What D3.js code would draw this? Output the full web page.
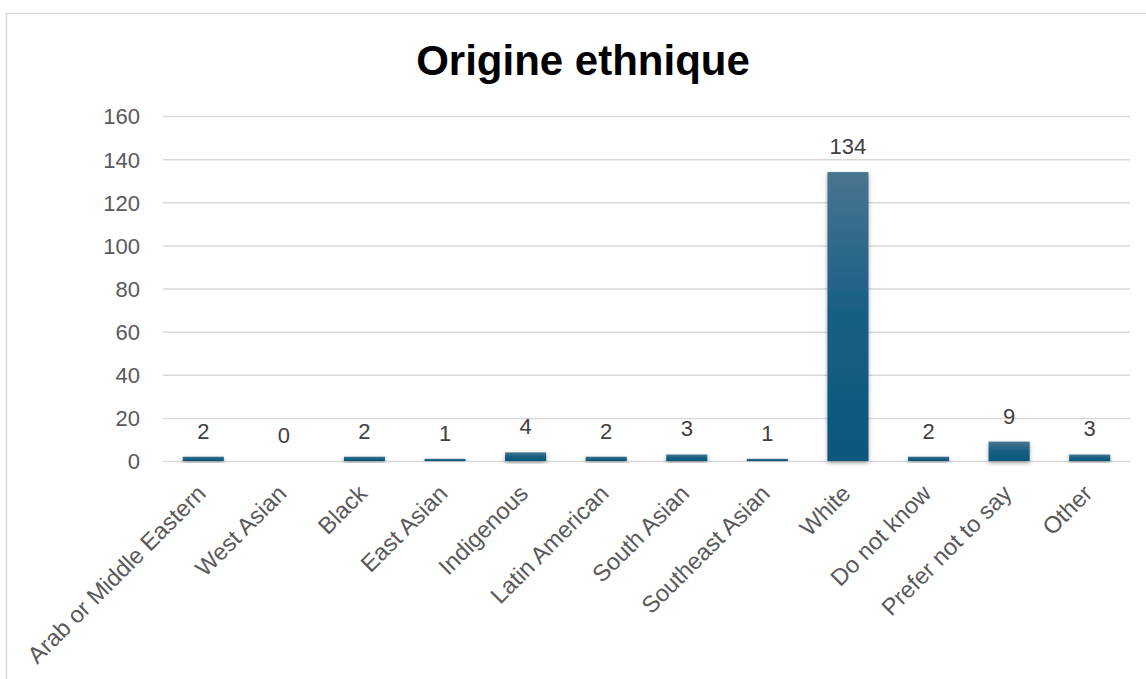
<!DOCTYPE html>
<html><head><meta charset="utf-8">
<script src="https://cdn.jsdelivr.net/npm/d3@7"></script>
<style>body{margin:0;background:#fff;}svg{display:block;font-family:"Liberation Sans",Arial,sans-serif;}</style>
</head><body>
<svg id="chart" width="1146" height="679"></svg>
<script>
const categories = ["Arab or Middle Eastern","West Asian","Black","East Asian","Indigenous","Latin American","South Asian","Southeast Asian","White","Do not know","Prefer not to say","Other"];
const values = [2,0,2,1,4,2,3,1,134,2,9,3];
const yTicks = [0,20,40,60,80,100,120,140,160];
const title = "Origine ethnique";

const svg = d3.select("#chart");
const m = {left:163, right:1130, top:116, bottom:461};

svg.append("rect").attr("x",6.5).attr("y",13.5).attr("width",1150).attr("height",700)
  .attr("fill","#fff").attr("stroke","#d9d9d9").attr("stroke-width",1.5);

const defs = svg.append("defs");
const grad = defs.append("linearGradient").attr("id","barGrad").attr("x1",0).attr("y1",0).attr("x2",0).attr("y2",1);
grad.append("stop").attr("offset","0%").attr("stop-color","#4a7491");
grad.append("stop").attr("offset","50%").attr("stop-color","#165f84");
grad.append("stop").attr("offset","100%").attr("stop-color","#0c577b");
const filt = defs.append("filter").attr("id","shadow").attr("x","-30%").attr("y","-30%").attr("width","160%").attr("height","160%");
filt.append("feDropShadow").attr("dx",0).attr("dy",2).attr("stdDeviation",2.2).attr("flood-color","#000").attr("flood-opacity",0.35);

const x = d3.scaleBand().domain(categories).range([m.left,m.right]).paddingInner(0.49).paddingOuter(0.245);
const y = d3.scaleLinear().domain([0,160]).range([m.bottom,m.top]);

svg.append("text").attr("x",583).attr("y",75).attr("text-anchor","middle")
  .attr("font-size",42).attr("font-weight","bold").attr("fill","#000").text(title);

// gridlines + y labels
const yAxis = d3.axisLeft(y).tickValues(yTicks).tickSize(-(m.right-m.left)).tickPadding(23);
const gy = svg.append("g").attr("transform",`translate(${m.left},0)`).call(yAxis);
gy.select(".domain").remove();
gy.selectAll(".tick line").attr("stroke","#d9d9d9").attr("stroke-width",1.5);
gy.selectAll(".tick text").attr("fill","#595959").attr("font-size",22).attr("font-family","Liberation Sans, Arial, sans-serif").attr("dy","0.36em");

// bars
svg.append("g").selectAll("rect").data(values).join("rect")
  .attr("x",(d,i)=>x(categories[i]))
  .attr("width",x.bandwidth())
  .attr("y",d=>y(d))
  .attr("height",d=>Math.max(0,y(0)-y(d)))
  .attr("fill","url(#barGrad)")
  .attr("filter","url(#shadow)");

// data labels
svg.append("g").selectAll("text").data(values).join("text")
  .attr("x",(d,i)=>x(categories[i])+x.bandwidth()/2)
  .attr("y",d=>y(d)-26)
  .attr("dy","0.36em")
  .attr("text-anchor","middle")
  .attr("font-size",22).attr("fill","#404040")
  .text(d=>d);

// category labels
const xAxis = d3.axisBottom(x).tickSize(0).tickPadding(0);
const gx = svg.append("g").attr("transform",`translate(0,${m.bottom})`).call(xAxis);
gx.select(".domain").remove();
gx.selectAll(".tick text")
  .attr("font-size",23.5).attr("fill","#595959").attr("font-family","Liberation Sans, Arial, sans-serif")
  .attr("text-anchor","end")
  .attr("dy",0).attr("y",0)
  .attr("transform","translate(4,34) rotate(-45)");
</script>
</body></html>
